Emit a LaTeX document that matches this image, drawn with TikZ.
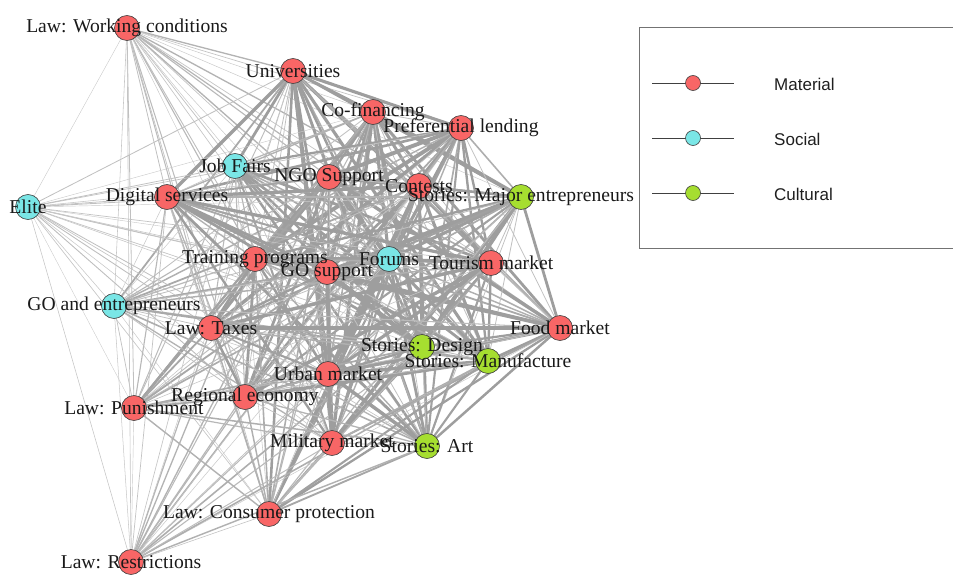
\documentclass[tikz,border=0pt]{standalone}
\usepackage{fontspec}
\setmainfont{Liberation Serif}
\newfontfamily\legfont{Liberation Sans}
\usetikzlibrary{backgrounds}
\definecolor{matred}{RGB}{248,102,102}
\definecolor{soccyan}{RGB}{122,230,230}
\definecolor{culgreen}{RGB}{166,222,48}
\definecolor{edgegray}{RGB}{158,158,158}
\tikzset{
  vtx/.style={circle, draw=black!75, line width=0.6pt, minimum size=25pt, inner sep=0pt},
  mat/.style={vtx, fill=matred},
  soc/.style={vtx, fill=soccyan},
  cul/.style={vtx, fill=culgreen},
  lbl/.style={font=\fontsize{19.6}{19.6}\selectfont, inner sep=0pt, text=black!90},
  legline/.style={draw=black!75, line width=0.8pt},
  legdot/.style={circle, draw=black!75, line width=0.6pt, minimum size=15pt, inner sep=0pt},
  legtext/.style={font=\legfont\fontsize{17}{17}\selectfont, anchor=west, inner sep=0pt, text=black!88},
  legbox/.style={draw=black!55, line width=1pt}
}
\begin{document}
\begin{tikzpicture}[x=1pt,y=-1pt]
\useasboundingbox (0,0) rectangle (953,575);
% vertices
\node[mat] (WC)  at (127,28)  {};
\node[mat] (U)   at (293,71)  {};
\node[mat] (CF)  at (373,112) {};
\node[mat] (PL)  at (461,128) {};
\node[soc] (JF)  at (235,166) {};
\node[mat] (NGO) at (329,177) {};
\node[mat] (CT)  at (419,186) {};
\node[cul] (SM)  at (521,197) {};
\node[soc] (EL)  at (28,207)  {};
\node[mat] (DS)  at (167,197) {};
\node[mat] (TP)  at (255,259) {};
\node[soc] (FO)  at (389,259) {};
\node[mat] (GS)  at (327,272) {};
\node[mat] (TM)  at (491,263) {};
\node[soc] (GE)  at (114,306) {};
\node[mat] (LT)  at (211,328) {};
\node[mat] (FM)  at (560,328) {};
\node[cul] (SD)  at (422,347) {};
\node[cul] (SMa) at (488,361) {};
\node[mat] (UM)  at (328,374) {};
\node[mat] (RE)  at (245,397) {};
\node[mat] (LP)  at (134,408) {};
\node[mat] (MM)  at (332,443) {};
\node[cul] (SA)  at (427,446) {};
\node[mat] (CP)  at (269,514) {};
\node[mat] (LR)  at (131,562) {};
% edges
\def\nodelist{WC/0.22,U/0.8,CF/0.8,PL/0.8,JF/0.55,NGO/0.8,CT/0.8,SM/0.8,EL/0.14,DS/0.65,TP/0.8,FO/0.8,GS/0.9,TM/0.8,GE/0.32,LT/0.7,FM/0.7,SD/0.85,SMa/0.8,UM/0.8,RE/0.7,LP/0.38,MM/0.7,SA/0.7,CP/0.5,LR/0.28}
\begin{pgfonlayer}{background}
\foreach \a/\wa [count=\i] in \nodelist {
  \foreach \b/\wb [count=\j] in \nodelist {
    \ifnum\j>\i
      \pgfmathsetmacro\lw{0.35+3.0*\wa*\wb*(0.25+0.4*mod(\i*7+\j*11,5))}
      \pgfmathtruncatemacro\shade{min(100,45+25*\lw)}
      \draw[draw=edgegray!\shade!white, line width=\lw pt] (\a.center) -- (\b.center);
    \fi
  }
}
\end{pgfonlayer}
% labels
\node[lbl] (WC-l)  at (WC)  {Law: Working conditions};
\node[lbl] (U-l)   at (U)   {Universities};
\node[lbl] (CF-l)  at (CF)  {Co-financing};
\node[lbl] (PL-l)  at (PL)  {Preferential lending};
\node[lbl] (JF-l)  at (JF)  {Job Fairs};
\node[lbl] (NGO-l) at (NGO) {NGO Support};
\node[lbl] (CT-l)  at (CT)  {Contests};
\node[lbl] (SM-l)  at (SM)  {Stories: Major entrepreneurs};
\node[lbl] (EL-l)  at (EL)  {Elite};
\node[lbl] (DS-l)  at (DS)  {Digital services};
\node[lbl] (TP-l)  at (TP)  {Training programs};
\node[lbl] (FO-l)  at (FO)  {Forums};
\node[lbl] (GS-l)  at (GS)  {GO support};
\node[lbl] (TM-l)  at (TM)  {Tourism market};
\node[lbl] (GE-l)  at (GE)  {GO and entrepreneurs};
\node[lbl] (LT-l)  at (LT)  {Law: Taxes};
\node[lbl] (FM-l)  at (FM)  {Food market};
\node[lbl] (SD-l)  at (SD)  {Stories: Design};
\node[lbl] (SMa-l) at (SMa) {Stories: Manufacture};
\node[lbl] (UM-l)  at (UM)  {Urban market};
\node[lbl] (RE-l)  at (RE)  {Regional economy};
\node[lbl] (LP-l)  at (LP)  {Law: Punishment};
\node[lbl] (MM-l)  at (MM)  {Military market};
\node[lbl] (SA-l)  at (SA)  {Stories: Art};
\node[lbl] (CP-l)  at (CP)  {Law: Consumer protection};
\node[lbl] (LR-l)  at (LR)  {Law: Restrictions};
% legend
\draw[legbox] (960,28) -| (639,248) -- (960,248);
\coordinate (m1) at (652,83);  \coordinate (m2) at (734,83);
\coordinate (s1) at (652,138); \coordinate (s2) at (734,138);
\coordinate (c1) at (652,193); \coordinate (c2) at (734,193);
\draw[legline] (m1) -- (m2);
\draw[legline] (s1) -- (s2);
\draw[legline] (c1) -- (c2);
\node[legdot, fill=matred]   (md) at (693,83)  {};
\node[legdot, fill=soccyan]  (sd) at (693,138) {};
\node[legdot, fill=culgreen] (cd) at (693,193) {};
\node[legtext] (mt) at (774,84)  {Material};
\node[legtext] (st) at (774,139) {Social};
\node[legtext] (ct) at (774,194) {Cultural};
\end{tikzpicture}
\end{document}
